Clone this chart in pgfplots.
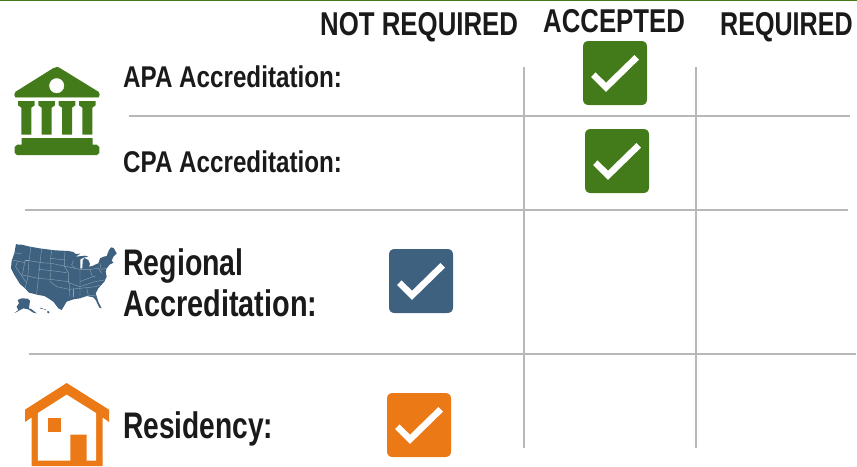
\documentclass[border=0pt]{standalone}
\usepackage{pgfplots}
\pgfplotsset{compat=1.18}
\usepackage{fontspec}
\setmainfont[FakeStretch=0.67]{Liberation Sans}
\definecolor{cgreen}{HTML}{437B1B}
\definecolor{cblue}{HTML}{3D617F}
\definecolor{corange}{HTML}{EA7916}
\definecolor{cgrid}{HTML}{B8B8B8}
\definecolor{cstate}{HTML}{8DA5B8}
\definecolor{ctext}{HTML}{1A1A1A}
\pgfdeclareplotmark{checkbox}{%
  \pgfsetroundjoin
  \pgfpathmoveto{\pgfqpoint{-26pt}{-32pt}}
  \pgfpathlineto{\pgfqpoint{26pt}{-32pt}}
  \pgfpathquadraticcurveto{\pgfqpoint{32pt}{-32pt}}{\pgfqpoint{32pt}{-26pt}}
  \pgfpathlineto{\pgfqpoint{32pt}{26pt}}
  \pgfpathquadraticcurveto{\pgfqpoint{32pt}{32pt}}{\pgfqpoint{26pt}{32pt}}
  \pgfpathlineto{\pgfqpoint{-26pt}{32pt}}
  \pgfpathquadraticcurveto{\pgfqpoint{-32pt}{32pt}}{\pgfqpoint{-32pt}{26pt}}
  \pgfpathlineto{\pgfqpoint{-32pt}{-26pt}}
  \pgfpathquadraticcurveto{\pgfqpoint{-32pt}{-32pt}}{\pgfqpoint{-26pt}{-32pt}}
  \pgfpathclose
  \pgfusepathqfill
  \pgfsetstrokecolor{white}
  \pgfsetlinewidth{6.5pt}
  \pgfsetmiterjoin
  \pgfpathmoveto{\pgfqpoint{-21.7pt}{-1.7pt}}
  \pgfpathlineto{\pgfqpoint{-9pt}{-14.3pt}}
  \pgfpathlineto{\pgfqpoint{21.7pt}{15.7pt}}
  \pgfusepathqstroke
}
% polygons are read in 3x crop coordinates: x/3+ox, y/3+oy
\newcommand{\poly}[4]{\addplot[#1] table[row sep=\\, x expr=\thisrow{x}/3+#2, y expr=\thisrow{y}/3+#3] {x y\\ #4};}
\newcommand{\lab}[5]{\node[anchor=base west,inner sep=0pt,text=ctext,xscale=#5,font=\fontsize{#1}{#1}\selectfont\bfseries] at (axis cs:#2,#3) {#4};}
\begin{document}
\begin{tikzpicture}
\path[use as bounding box] (0,0) rectangle (857pt,466pt);
\begin{axis}[
  at={(0,0)},anchor=south west,
  scale only axis,width=857pt,height=466pt,
  xmin=0,xmax=857,ymin=0,ymax=466,y dir=reverse,
  hide axis,clip=false]
% top rule
\addplot[cgreen,line width=1.6pt] coordinates {(0,0.6) (857,0.6)};
% grid
\addplot[cgrid,line width=1.4pt] coordinates {(129,116) (850,116)};
\addplot[cgrid,line width=1.4pt] coordinates {(25,210) (848,210)};
\addplot[cgrid,line width=1.4pt] coordinates {(29,354) (856,354)};
\addplot[cgrid,line width=1.6pt] coordinates {(524,67) (524,448)};
\addplot[cgrid,line width=1.6pt] coordinates {(696,67) (696,448)};
% check boxes
\addplot[only marks,mark=checkbox,color=cgreen,mark options={draw=cgreen,fill=cgreen}] coordinates {(615,73) (617,161)};
\addplot[only marks,mark=checkbox,color=cblue,mark options={draw=cblue,fill=cblue}] coordinates {(421,281)};
\addplot[only marks,mark=checkbox,color=corange,mark options={draw=corange,fill=corange}] coordinates {(419,425)};
% bank icon
\poly{fill=cgreen,draw=cgreen,line width=0.5pt,line join=round}{0}{0}{170 201\\ 178 204\\ 295 276\\ 298 284\\ 296 291\\ 46 291\\ 44 284\\ 47 276\\ 162 204\\}
\addplot[only marks,mark=*,mark size=7.2pt,color=white,mark options={draw=white,fill=white}] coordinates {(56.7,85.7)};
\poly{fill=cgreen,draw=none}{0}{0}{54 303\\ 104 303\\ 104 316\\ 94 323\\ 94 404\\ 64 404\\ 64 323\\ 54 316\\}
\poly{fill=cgreen,draw=none}{20.33}{0}{54 303\\ 104 303\\ 104 316\\ 94 323\\ 94 404\\ 64 404\\ 64 323\\ 54 316\\}
\poly{fill=cgreen,draw=none}{40.67}{0}{54 303\\ 104 303\\ 104 316\\ 94 323\\ 94 404\\ 64 404\\ 64 323\\ 54 316\\}
\poly{fill=cgreen,draw=none}{61}{0}{54 303\\ 104 303\\ 104 316\\ 94 323\\ 94 404\\ 64 404\\ 64 323\\ 54 316\\}
\poly{fill=cgreen,draw=none}{0}{0}{65 414\\ 278 414\\ 278 434\\ 290 434\\ 298 441\\ 298 458\\ 291 465\\ 51 465\\ 44 458\\ 44 441\\ 52 434\\ 65 434\\}
% USA icon
\poly{fill=cblue,draw=none}{5}{240}{33 12\\ 40 14\\ 50 14\\ 75 20\\ 110 26\\ 150 31\\ 190 33\\ 205 36\\ 212 42\\ 226 41\\ 212 50\\ 240 47\\ 250 50\\ 236 53\\ 226 58\\ 226 86\\ 232 85\\ 233 62\\ 238 54\\ 250 60\\ 255 72\\ 252 80\\ 262 78\\ 270 74\\ 280 70\\ 285 55\\ 296 50\\ 305 48\\ 312 30\\ 318 22\\ 326 24\\ 335 40\\ 325 50\\ 320 62\\ 326 68\\ 315 73\\ 305 85\\ 302 95\\ 305 110\\ 298 125\\ 280 145\\ 272 160\\ 280 185\\ 290 205\\ 283 203\\ 272 180\\ 265 172\\ 245 168\\ 225 175\\ 205 178\\ 185 185\\ 170 210\\ 160 205\\ 145 185\\ 130 175\\ 118 168\\ 100 165\\ 72 158\\ 60 145\\ 45 132\\ 28 105\\ 18 85\\ 20 62\\ 28 40\\}
\poly{fill=cblue,draw=none}{5}{240}{38 180\\ 50 175\\ 68 176\\ 75 182\\ 72 205\\ 80 208\\ 95 220\\ 85 218\\ 70 208\\ 55 205\\ 45 210\\ 35 216\\ 28 219\\ 40 210\\ 35 200\\ 42 190\\}
\poly{fill=cblue,draw=none}{5}{240}{127 212\\ 134 216\\ 131 220\\ 127 218\\}
\poly{cblue,line width=0.6pt}{5}{240}{105 204\\ 115 207\\}
\poly{cblue,line width=0.6pt}{5}{240}{118 208\\ 123 210\\}
\pgfplotsset{every axis plot/.append style={cstate,line width=0.35pt}}
\poly{}{5}{240}{28 38\\ 50 42\\}
\poly{}{5}{240}{22 60\\ 60 68\\}
\poly{}{5}{240}{38 64\\ 32 80\\ 62 125\\}
\poly{}{5}{240}{60 62\\ 52 105\\}
\poly{}{5}{240}{78 20\\ 72 62\\ 110 68\\}
\poly{}{5}{240}{60 62\\ 72 62\\}
\poly{}{5}{240}{72 62\\ 68 115\\ 60 145\\}
\poly{}{5}{240}{52 105\\ 100 115\\}
\poly{}{5}{240}{100 88\\ 140 92\\ 185 98\\}
\poly{}{5}{240}{110 26\\ 105 68\\ 100 115\\ 95 162\\}
\poly{}{5}{240}{140 30\\ 137 55\\ 138 92\\ 135 118\\}
\poly{}{5}{240}{137 55\\ 180 60\\}
\poly{}{5}{240}{105 68\\ 138 70\\ 178 78\\}
\poly{}{5}{240}{180 35\\ 178 60\\ 178 78\\ 190 98\\ 190 128\\}
\poly{}{5}{240}{100 115\\ 135 118\\ 190 125\\}
\poly{}{5}{240}{135 118\\ 135 125\\ 155 140\\ 192 148\\}
\poly{}{5}{240}{192 125\\ 195 170\\}
\poly{}{5}{240}{205 62\\ 200 75\\ 210 85\\ 225 88\\ 225 170\\}
\poly{}{5}{240}{178 78\\ 210 85\\}
\poly{}{5}{240}{225 125\\ 250 115\\ 272 108\\}
\poly{}{5}{240}{190 128\\ 225 140\\ 270 125\\ 298 120\\}
\poly{}{5}{240}{192 148\\ 225 145\\ 272 140\\ 285 135\\}
\poly{}{5}{240}{245 145\\ 250 165\\}
\poly{}{5}{240}{255 88\\ 262 110\\}
\poly{}{5}{240}{225 88\\ 255 88\\ 280 85\\ 290 100\\}
\poly{}{5}{240}{285 70\\ 288 88\\ 305 85\\}
\poly{}{5}{240}{205 172\\ 205 148\\}
\poly{}{5}{240}{245 165\\ 275 168\\}
\pgfplotsset{every axis plot/.append style={line width=0.4pt}}
% house icon
\poly{fill=corange,draw=none}{0}{233}{200 450\\ 327 530\\ 327 567\\ 308 553\\ 308 699\\ 95 699\\ 95 553\\ 75 567\\ 75 530\\}
\poly{fill=white,draw=none}{0}{233}{200 485\\ 288 540\\ 288 683\\ 260 683\\ 260 605\\ 211 605\\ 211 683\\ 114 683\\ 114 540\\}
\poly{fill=corange,draw=none}{0}{233}{143 556\\ 182 556\\ 182 596\\ 143 596\\}
% text
\lab{33}{320}{35}{NOT REQUIRED}{1.167}
\lab{33}{543}{32}{ACCEPTED}{1.165}
\lab{33}{720}{35}{REQUIRED}{1.135}
\lab{30}{123}{87}{APA Accreditation:}{1.204}
\lab{30}{123}{172.7}{CPA Accreditation:}{1.204}
\lab{37}{123}{275}{Regional}{1.15}
\lab{37}{123}{316}{Accreditation:}{1.165}
\lab{37}{123}{438}{Residency:}{1.135}
\end{axis}
\end{tikzpicture}
\end{document}
